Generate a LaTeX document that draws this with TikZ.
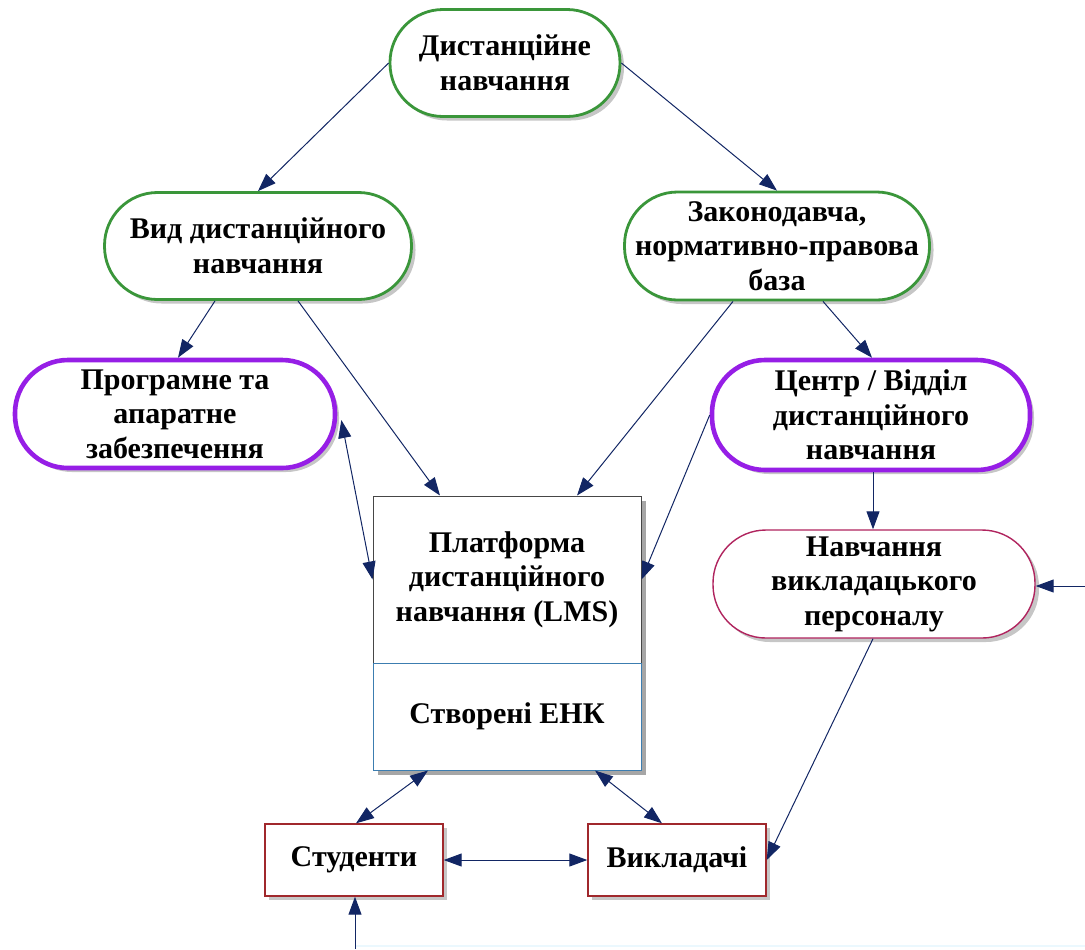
\documentclass[tikz,border=0pt]{standalone}
\usepackage{fontspec}
\setmainfont{Liberation Serif}
\usetikzlibrary{arrows.meta,shadows,calc}
\definecolor{navy}{RGB}{18,38,100}
\definecolor{grn}{RGB}{58,150,58}
\definecolor{purp}{RGB}{150,30,230}
\definecolor{crim}{RGB}{176,36,94}
\definecolor{dred}{RGB}{160,40,44}
\definecolor{lmsgray}{RGB}{70,70,70}
\definecolor{lmsblue}{RGB}{60,125,176}
\begin{document}
\begin{tikzpicture}[x=0.5pt,y=-0.5pt,
  txt/.style={font=\fontsize{15}{17.3}\selectfont\bfseries,align=center,inner sep=0pt},
  shad/.style={drop shadow={opacity=0.45,shadow xshift=2pt,shadow yshift=-2pt}},
  stad/.style={txt,rectangle,rounded corners=26.5pt,shad,fill=white},
  greenstad/.style={stad,draw=grn,line width=1.4pt},
  purpstad/.style={stad,draw=purp,line width=2.3pt},
  crimstad/.style={stad,draw=crim,line width=0.7pt},
  person/.style={txt,rectangle,shad,fill=white,draw=dred,line width=0.7pt,minimum width=89pt,minimum height=36pt},
  conn/.style={draw=navy,line width=0.5pt,-{Triangle[length=9pt,width=6.5pt]}},
  bconn/.style={draw=navy,line width=0.5pt,{Triangle[length=9pt,width=6.5pt]}-{Triangle[length=9pt,width=6.5pt]}}
]
\useasboundingbox (0,0) rectangle (1085,949);

\node[greenstad,minimum width=115pt,minimum height=53.5pt] (top) at (505,63) {Дистанційне\\навчання};
\node[greenstad,minimum width=153.5pt,minimum height=53.5pt] (vid) at (258,246) {Вид дистанційного\\навчання};
\node[greenstad,minimum width=152.5pt,minimum height=54pt] (zak) at (777,246) {Законодавча,\\нормативно-правова\\база};
\node[purpstad,minimum width=160pt,minimum height=54pt] (prog) at (175,414) {Програмне та\\апаратне\\забезпечення};
\node[purpstad,minimum width=159pt,minimum height=55pt] (cent) at (871,415) {Центр / Відділ\\дистанційного\\навчання};
\node[crimstad,minimum width=161pt,minimum height=54pt] (nav) at (874,584) {Навчання\\викладацького\\персоналу};

\fill[black,opacity=0.35] (378,501) rectangle (646,775);
\node[txt,rectangle,fill=white,draw=lmsgray,line width=0.5pt,minimum width=134pt,minimum height=83.5pt] (lmsA) at (507,579.5) {Платформа\\дистанційного\\навчання (LMS)};
\node[txt,rectangle,fill=white,draw=lmsblue,line width=0.5pt,minimum width=134pt,minimum height=53.5pt] (lmsB) at (507,716.5) {Створені ЕНК};

\node[person] (stud) at (354,860) {Студенти};
\node[person] (vik) at (677,860) {Викладачі};

\coordinate (rin) at (1085,586);
\coordinate (bin) at (355,949);
\coordinate (bcorner) at (355,946);
\coordinate (bright) at (1085,946);

\draw[conn] (top.west) -- (vid.north);
\draw[conn] (top.east) -- (zak.north);
\draw[conn] ($(vid.south)+(-43,0)$) -- ($(prog.north)+(3,0)$);
\draw[conn] ($(vid.south)+(40,0)$) -- ($(lmsA.north)+(-67,0)$);
\draw[conn] ($(zak.south)+(-44,0)$) -- ($(lmsA.north)+(70,0)$);
\draw[conn] ($(zak.south)+(46,0)$) -- ($(cent.north)+(1,0)$);
\draw[bconn] ($(prog.east)+(4,6)$) -- (lmsA.west);
\draw[conn] (cent.west) -- (lmsA.east);
\draw[conn] ($(cent.south)+(2,0)$) -- ($(nav.north)+(-1,0)$);
\draw[conn] (rin) -- ($(nav.east)+(0,2)$);
\draw[conn] ($(nav.south)+(-1,0)$) -- (vik.east);
\draw[bconn] ($(lmsB.south)+(-79,0)$) -- ($(stud.north)+(2,0)$);
\draw[bconn] ($(lmsB.south)+(88,0)$) -- ($(vik.north)+(-15,0)$);
\draw[bconn] (stud.east) -- (vik.west);
\draw[cyan!8,line width=1pt] (bright) -- (bcorner);
\draw[conn] (bin) -- ($(stud.south)+(1,0)$);
\end{tikzpicture}
\end{document}
